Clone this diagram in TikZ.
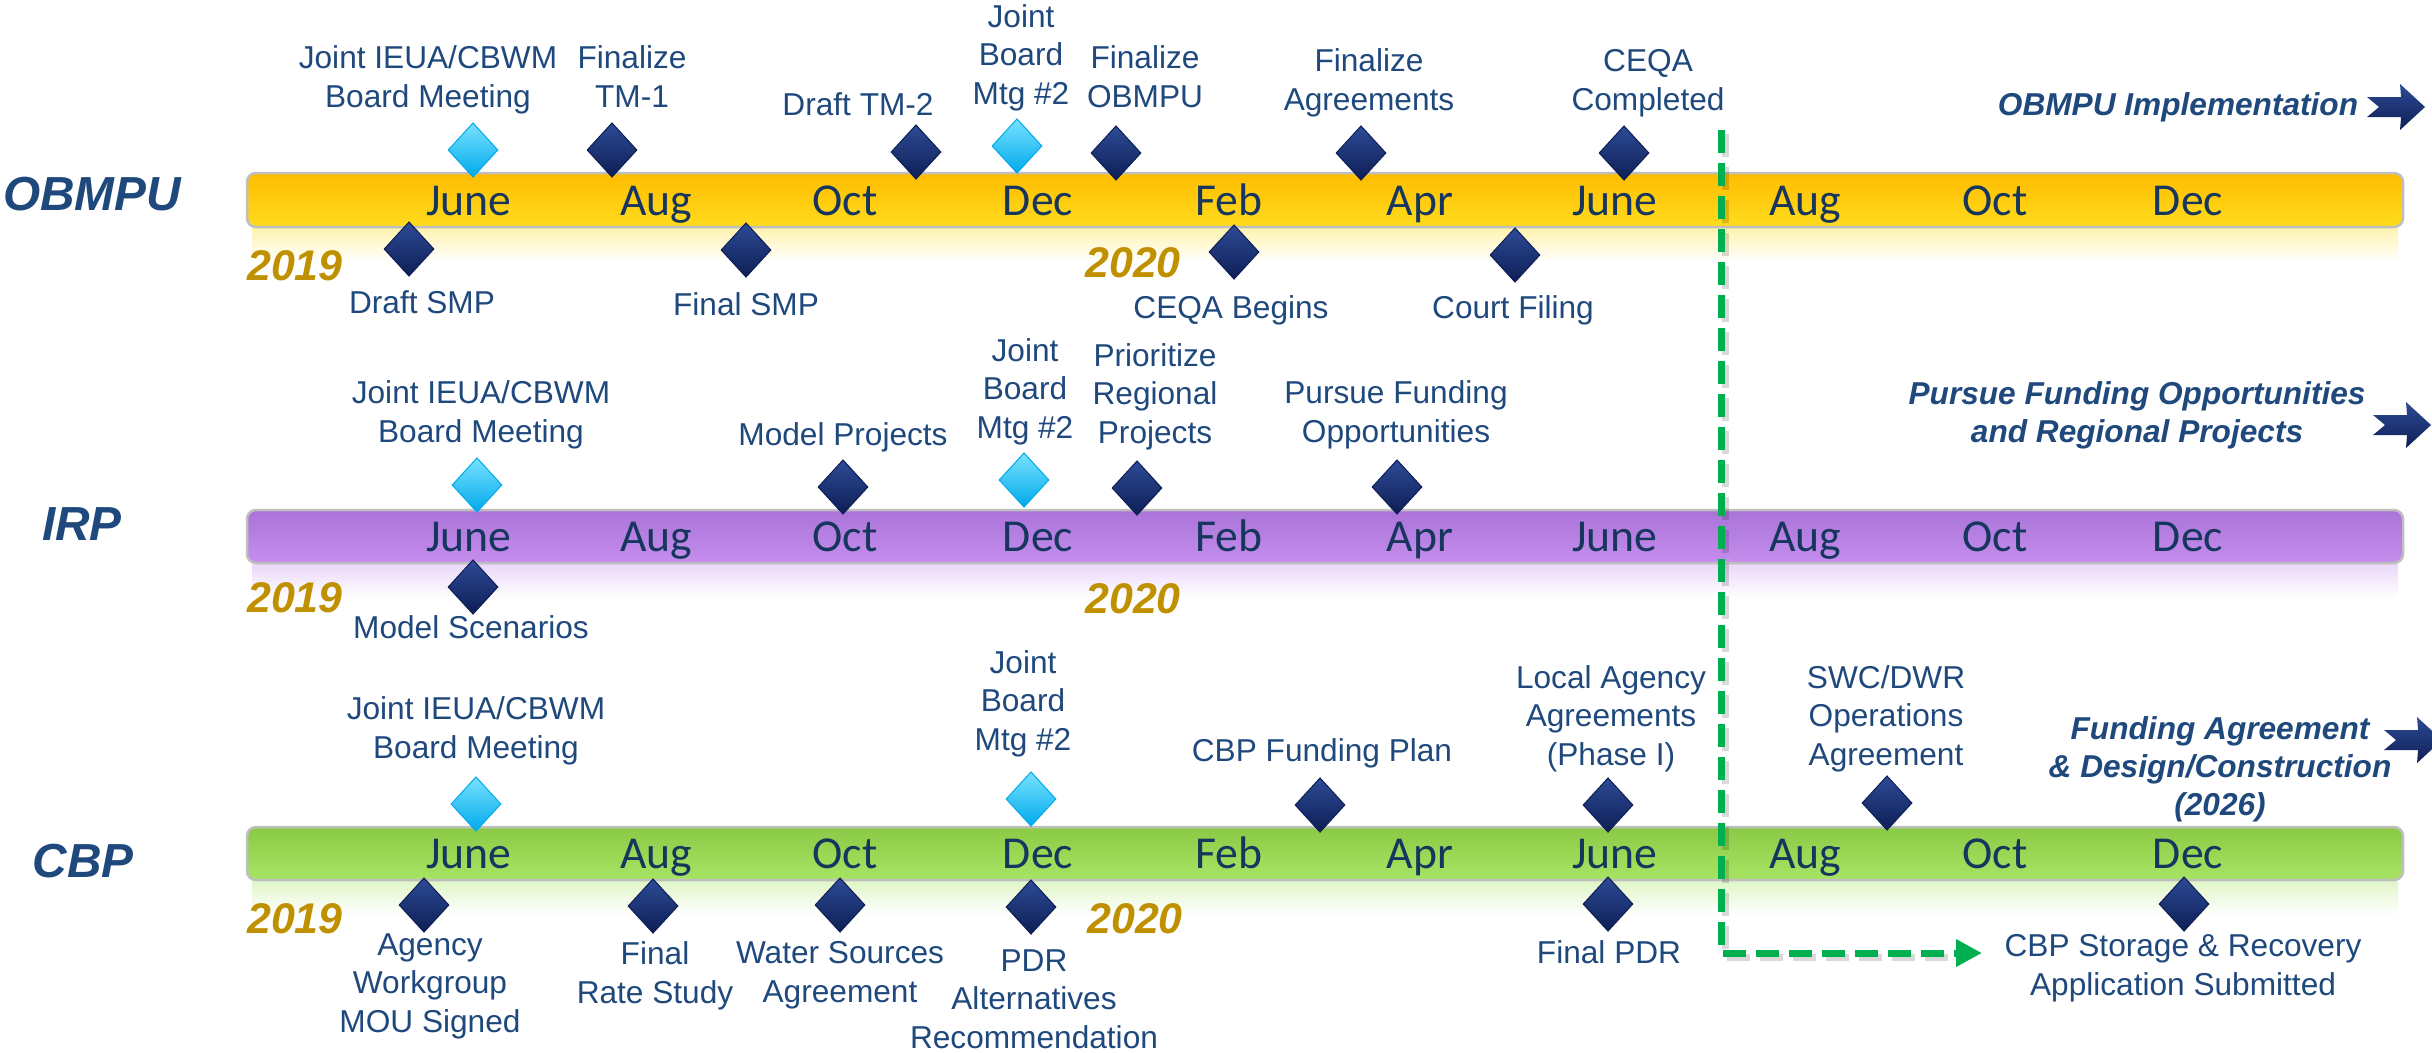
\documentclass[tikz,border=0pt]{standalone}
\usepackage{fontspec}
\setmainfont{Liberation Sans}
\newfontfamily\calfont{Carlito}
\usetikzlibrary{shapes.geometric,arrows.meta}
\definecolor{lbl}{RGB}{31,73,125}
\definecolor{mon}{RGB}{23,54,93}
\definecolor{gold}{RGB}{191,144,0}
\definecolor{navyT}{RGB}{45,75,150}
\definecolor{navyB}{RGB}{14,30,85}
\definecolor{cyanT}{RGB}{120,225,255}
\definecolor{cyanB}{RGB}{0,170,235}
\definecolor{gdash}{RGB}{0,176,80}
\definecolor{obT}{RGB}{255,188,0}
\definecolor{obB}{RGB}{255,220,30}
\definecolor{irT}{RGB}{170,115,216}
\definecolor{irB}{RGB}{196,142,238}
\definecolor{cbT}{RGB}{138,202,70}
\definecolor{cbB}{RGB}{168,228,100}
\begin{document}
\begin{tikzpicture}[x=0.1mm,y=-0.1mm,
 lab/.style={text=lbl,font=\fontsize{9}{10.95}\selectfont,align=center,inner sep=0pt,anchor=base},
 mon/.style={text=mon,font=\calfont\fontsize{13}{14}\selectfont,inner sep=0pt,anchor=base},
 rowlab/.style={text=lbl,font=\fontsize{13.6}{15}\selectfont\bfseries\itshape,inner sep=0pt,anchor=base},
 yr/.style={text=gold,font=\fontsize{12.2}{14}\selectfont\bfseries\itshape,inner sep=0pt,anchor=base},
 ital/.style={text=lbl,font=\fontsize{9}{10.7}\selectfont\bfseries\itshape,align=center,inner sep=0pt,anchor=base},
 dk/.style={diamond,minimum width=5.0mm,minimum height=5.45mm,inner sep=0pt,top color=navyT,bottom color=navyB,draw=navyB,line width=0.1mm},
 cy/.style={diamond,minimum width=5.0mm,minimum height=5.45mm,inner sep=0pt,top color=cyanT,bottom color=cyanB,draw=cyanB,line width=0.1mm},
 bar/.style={rounded corners=0.9mm,draw=black!25,line width=0.25mm},
 chev/.pic={\path[top color=navyT,bottom color=navyB] (0,-10)--(34,-10)--(33,-23)--(58,0)--(33,23)--(34,10)--(0,10)--(12,0)--cycle;}
]
\useasboundingbox (0,0) rectangle (2432,1052);
\fill[white] (0,0) rectangle (2432,1052);
\clip (0,0) rectangle (2432,1052);

% reflections
\path[top color=obB!35!white,bottom color=white] (252,228) rectangle (2398,262);
\path[top color=irB!35!white,bottom color=white] (252,564) rectangle (2398,598);
\path[top color=cbB!35!white,bottom color=white] (252,881) rectangle (2398,915);

% bars
\path[bar,top color=obT,bottom color=obB] (247,173) rectangle (2403,227);
\path[bar,top color=irT,bottom color=irB] (247,510) rectangle (2403,563);
\path[bar,top color=cbT,bottom color=cbB] (247,827) rectangle (2403,880);

% months
\foreach \mx/\mn [count=\i] in {469/June,656/Aug,845/Oct,1038/Dec,1229/Feb,1420/Apr,1615/June,1805/Aug,1995/Oct,2188/Dec}{
  \node[mon] (mo\i) at (\mx,215) {\mn};
  \node[mon] (mi\i) at (\mx,551) {\mn};
  \node[mon] (mc\i) at (\mx,868) {\mn};
}

% row labels and years
\node[rowlab] (rOB) at (92,210) {OBMPU};
\node[rowlab] (rIR) at (82,540) {IRP};
\node[rowlab] (rCB) at (83,877) {CBP};
\node[yr] (yOa) at (295,280) {2019};
\node[yr] (yOb) at (1133,277) {2020};
\node[yr] (yIa) at (295,612) {2019};
\node[yr] (yIb) at (1133,613) {2020};
\node[yr] (yCa) at (295,933) {2019};
\node[yr] (yCb) at (1135,933) {2020};

% ---- OBMPU ----
\node[cy] (oD1) at (473,150) {};
\node[dk] (oD2) at (612,150) {};
\node[dk] (oD3) at (916,152) {};
\node[cy] (oD4) at (1017,146) {};
\node[dk] (oD5) at (1116,153) {};
\node[dk] (oD6) at (1361,153) {};
\node[dk] (oD7) at (1624,153) {};
\node[dk] (oD8) at (409,249) {};
\node[dk] (oD9) at (746,250) {};
\node[dk] (oD10) at (1234,252) {};
\node[dk] (oD11) at (1515,255) {};
\node[lab] (oL1) at (428,107) {Joint IEUA/CBWM\\Board Meeting};
\node[lab] (oL2) at (632,107) {Finalize\\TM-1};
\node[lab] (oL3) at (858,115) {Draft TM-2};
\node[lab] (oL4) at (1021,104) {Joint\\Board\\Mtg \#2};
\node[lab] (oL5) at (1145,107) {Finalize\\OBMPU};
\node[lab] (oL6) at (1369,110) {Finalize\\Agreements};
\node[lab] (oL7) at (1648,110) {CEQA\\Completed};
\node[lab] (oL8) at (422,313) {Draft SMP};
\node[lab] (oL9) at (746,315) {Final SMP};
\node[lab] (oL10) at (1231,318) {CEQA Begins};
\node[lab] (oL11) at (1513,318) {Court Filing};
\node[ital] (oI) at (2178,115) {OBMPU Implementation};
\pic (oA) at (2367,107) {chev};

% ---- IRP ----
\node[cy] (iD1) at (477,485) {};
\node[dk] (iD2) at (473,587) {};
\node[dk] (iD3) at (843,487) {};
\node[cy] (iD4) at (1024,480) {};
\node[dk] (iD5) at (1137,488) {};
\node[dk] (iD6) at (1397,487) {};
\node[lab] (iL1) at (481,442) {Joint IEUA/CBWM\\Board Meeting};
\node[lab] (iL2) at (471,638) {Model Scenarios};
\node[lab] (iL3) at (843,445) {Model Projects};
\node[lab] (iL4) at (1025,438) {Joint\\Board\\Mtg \#2};
\node[lab] (iL5) at (1155,443) {Prioritize\\Regional\\Projects};
\node[lab] (iL6) at (1396,442) {Pursue Funding\\Opportunities};
\node[ital] (iI) at (2137,442) {Pursue Funding Opportunities\\and Regional Projects};
\pic (iA) at (2373,425) {chev};

% ---- CBP ----
\node[cy] (cD1) at (476,804) {};
\node[cy] (cD2) at (1031,799) {};
\node[dk] (cD3) at (1320,805) {};
\node[dk] (cD4) at (1608,805) {};
\node[dk] (cD5) at (1887,803) {};
\node[dk] (cD6) at (424,905) {};
\node[dk] (cD7) at (653,906) {};
\node[dk] (cD8) at (840,905) {};
\node[dk] (cD9) at (1031,907) {};
\node[dk] (cD10) at (1608,904) {};
\node[dk] (cD11) at (2184,904) {};
\node[lab] (cL1) at (476,758) {Joint IEUA/CBWM\\Board Meeting};
\node[lab] (cL2) at (1023,750) {Joint\\Board\\Mtg \#2};
\node[lab] (cL3) at (1322,761) {CBP Funding Plan};
\node[lab] (cL4) at (1611,765) {Local Agency\\Agreements\\(Phase I)};
\node[lab] (cL5) at (1886,765) {SWC/DWR\\Operations\\Agreement};
\node[lab] (cL6) at (430,1032) {Agency\\Workgroup\\MOU Signed};
\node[lab] (cL7) at (655,1003) {Final\\Rate Study};
\node[lab] (cL8) at (840,1002) {Water Sources\\Agreement};
\node[lab] (cL9) at (1034,1048) {PDR\\Alternatives\\Recommendation};
\node[lab] (cL10) at (1609,963) {Final PDR};
\node[lab] (cL11) at (2183,995) {CBP Storage \& Recovery\\Application Submitted};
\node[ital] (cI) at (2220,815) {Funding Agreement\\\& Design/Construction\\(2026)};
\pic (cA) at (2384,740) {chev};

% green dashed connector
\coordinate (gtop) at (1721,130);
\coordinate (gend) at (1982,953);
\draw[black,opacity=0.15,line width=0.7mm,dash pattern=on 2.3mm off 1mm] ([shift={(4,4)}]gtop) |- ([shift={(-20,4)}]gend);
\draw[gdash,line width=0.7mm,dash pattern=on 2.3mm off 1mm,-{Triangle[length=2.6mm,width=2.6mm]}] (gtop) |- (gend);
\end{tikzpicture}
\end{document}
